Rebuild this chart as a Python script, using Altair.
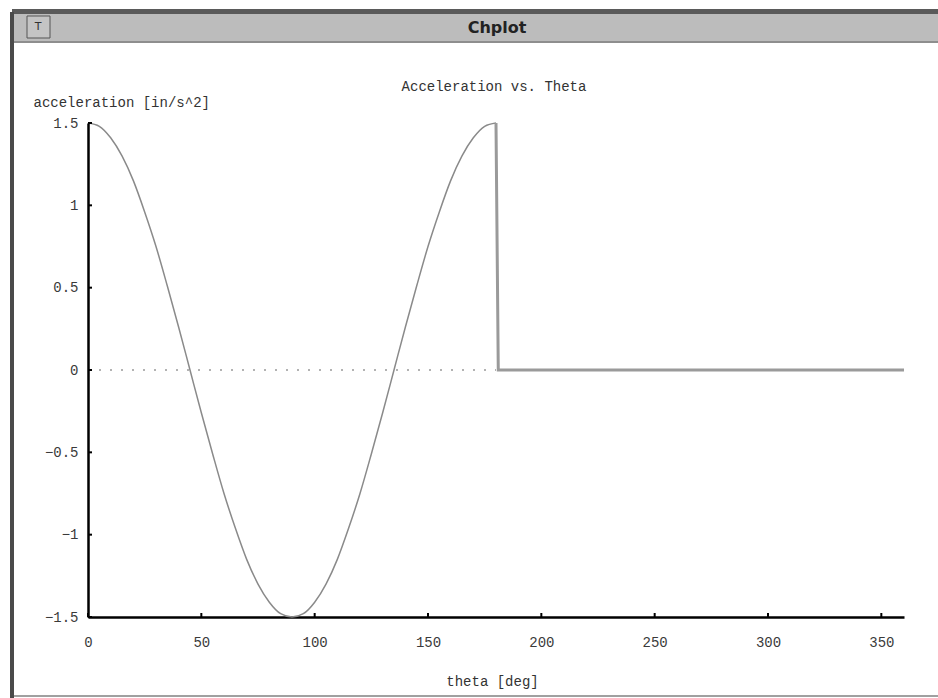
import altair as alt
import pandas as pd

# --- data ---
theta_curve = [0, 5, 10, 15, 20, 25, 30, 35, 40, 45, 50, 55, 60, 65, 70, 75, 80, 85, 90,
               95, 100, 105, 110, 115, 120, 125, 130, 135, 140, 145, 150, 155, 160, 165,
               170, 175, 180]
accel_curve = [1.50, 1.48, 1.41, 1.30, 1.15, 0.96, 0.75, 0.51, 0.26, 0.00, -0.26, -0.51,
               -0.75, -0.96, -1.15, -1.30, -1.41, -1.48, -1.50, -1.48, -1.41, -1.30, -1.15,
               -0.96, -0.75, -0.51, -0.26, 0.00, 0.26, 0.51, 0.75, 0.96, 1.15, 1.30, 1.41,
               1.48, 1.50]
theta_rest = [180, 181, 360]
accel_rest = [1.50, 0.00, 0.00]
theta_zero = [0, 180]
accel_zero = [0, 0]
x_ticks = [0, 50, 100, 150, 200, 250, 300, 350]
y_ticks = [-1.5, -1, -0.5, 0, 0.5, 1, 1.5]
chart_title = "Acceleration vs. Theta"
window_title = "Chplot"

W, H = 816, 494
FONT = "Liberation Mono"

curve_df = pd.DataFrame({"theta": theta_curve, "accel": accel_curve})
rest_df = pd.DataFrame({"theta": theta_rest, "accel": accel_rest})
zero_df = pd.DataFrame({"theta": theta_zero, "accel": accel_zero})
xt_df = pd.DataFrame({"t": x_ticks})
yt_df = pd.DataFrame({"t": y_ticks})
one = pd.DataFrame({"k": [0]})

xscale = alt.Scale(domain=[0, 360], nice=False, zero=False)
yscale = alt.Scale(domain=[-1.5, 1.5], nice=False, zero=False)

xaxis = alt.Axis(values=x_ticks, format="d", tickSize=0, labelPadding=18, grid=False,
                 labelFlush=False, labelOverlap=False,
                 domainColor="black", domainWidth=2.5, labelFont=FONT, labelFontSize=14,
                 labelColor="#3a3a3a", title="theta [deg]", titleFont=FONT, titleFontSize=14,
                 titleFontWeight="normal", titleColor="#333", titleX=404, titleY=64,
                 titleAlign="center", titleBaseline="middle")
yaxis = alt.Axis(values=y_ticks, tickSize=0, labelPadding=10, grid=False,
                 labelFlush=False, labelOverlap=False,
                 domainColor="black", domainWidth=2.5, labelFont=FONT, labelFontSize=14,
                 labelColor="#3a3a3a", labelExpr="datum.value == 0 ? '0' : format(datum.value, '.2~f')",
                 title="acceleration [in/s^2]", titleFont=FONT, titleFontSize=14,
                 titleFontWeight="normal", titleColor="#333", titleAngle=0, titleX=-55,
                 titleY=-21, titleAlign="left", titleBaseline="middle")

zero_line = alt.Chart(zero_df).mark_line(color="#999", strokeWidth=1.5, strokeDash=[2, 9]).encode(
    x=alt.X("theta:Q", scale=xscale, axis=xaxis),
    y=alt.Y("accel:Q", scale=yscale, axis=yaxis),
)
curve = alt.Chart(curve_df).mark_line(color="#8a8a8a", strokeWidth=1.5,
                                      interpolate="monotone").encode(
    x=alt.X("theta:Q", scale=xscale), y=alt.Y("accel:Q", scale=yscale))
rest = alt.Chart(rest_df).mark_line(color="#9a9a9a", strokeWidth=3).encode(
    x=alt.X("theta:Q", scale=xscale), y=alt.Y("accel:Q", scale=yscale))

xtick_marks = alt.Chart(xt_df).mark_rule(color="black", strokeWidth=2).encode(
    x=alt.X("t:Q", scale=xscale), y=alt.value(H), y2=alt.value(H - 4))
ytick_marks = alt.Chart(yt_df).mark_rule(color="black", strokeWidth=2).encode(
    y=alt.Y("t:Q", scale=yscale), x=alt.value(0), x2=alt.value(4))

# --- window frame decoration (pixel positions relative to plot origin 88,123) ---
def rect(x, x2, y, y2, fill, stroke=None):
    kw = dict(fill=fill)
    if stroke:
        kw.update(stroke=stroke, strokeWidth=1)
    return alt.Chart(one).mark_rect(**kw).encode(
        x=alt.value(x), x2=alt.value(x2), y=alt.value(y), y2=alt.value(y2))

titlebar = rect(-76, 850, -112, -80, "#bcbcbc")
titlebar_top = rect(-76, 850, -114, -109, "#5a5a5a")
titlebar_bottom = rect(-76, 850, -82, -80, "#8e8e8e")
left_border = rect(-78, -74, -111, 575, "#4a4a4a")
bottom_border = rect(-74, 850, 572, 574, "#a0a0a0")
button = rect(-61, -38, -107, -85, "#c4c4c4", stroke="#555")
button_text = alt.Chart(one).mark_text(text="T", font="DejaVu Sans", fontSize=11,
                                       color="#333").encode(x=alt.value(-50), y=alt.value(-96))
win_title = alt.Chart(one).mark_text(text=window_title, font="DejaVu Sans", fontSize=16,
                                     fontWeight="bold", color="#222").encode(
    x=alt.value(409), y=alt.value(-95))
plot_title = alt.Chart(one).mark_text(text=chart_title, font=FONT, fontSize=14,
                                      color="#333").encode(
    x=alt.value(406), y=alt.value(-36))

chart = alt.layer(
    zero_line, curve, rest, xtick_marks, ytick_marks,
    titlebar, titlebar_top, titlebar_bottom, left_border, bottom_border,
    button, button_text, win_title, plot_title,
).properties(
    width=W, height=H,
    autosize=alt.AutoSizeParams(type="none"),
    padding={"left": 88, "top": 123, "right": 34, "bottom": 81},
    background="white",
).configure_view(stroke=None)

chart.save("out.html", embed_options={"renderer": "svg", "actions": False})
